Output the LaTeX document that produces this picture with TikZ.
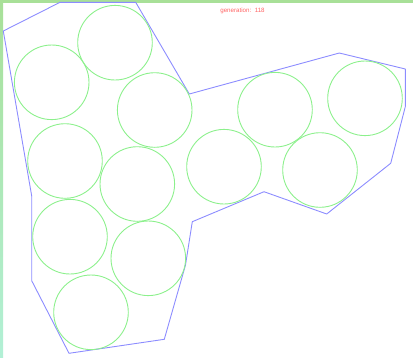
\documentclass[tikz,border=0pt]{standalone}
\usepackage{fontspec}
\setsansfont{Liberation Sans}
\usepackage{tikz}
\usetikzlibrary{positioning, calc}
\definecolor{HullBlue}{RGB}{140,140,255}
\definecolor{CellGreen}{RGB}{140,240,140}
\definecolor{FrameGreen}{RGB}{168,224,152}
\definecolor{FrameMint}{RGB}{178,240,214}
\definecolor{LabelRed}{RGB}{255,100,100}

\begin{document}
\begin{tikzpicture}[x=1pt, y=-1pt, line join=round,
    hull/.style={HullBlue, line width=0.9pt},
    cell/.style={CellGreen, line width=0.9pt}]
        \useasboundingbox (0,0) rectangle (413,357);
        % Frame strips
        \fill [FrameGreen] (0,0) rectangle (413,3);
        \shade [top color=FrameGreen, bottom color=FrameMint] (0,0) rectangle (3,357);
        % Hull
        \draw [hull] (3.3,31) -- (60,2.3) -- (135.7,2.3) -- (189.3,94)
            -- (339.3,53) -- (405.3,69) -- (405.3,106.7) -- (390.7,163.3)
            -- (326.7,214) -- (264,191.7) -- (192.3,221.7) -- (185.5,265)
            -- (164.3,339.3) -- (69,353.3) -- (31.7,280.7) -- (31.7,196) -- cycle;
        % Circles
        \foreach \cx/\cy in {115/42.7, 51.7/82.3, 154.7/110, 65/161, 137.3/184,
                             70/236.7, 148.3/258.3, 91/312.3, 224/166.7,
                             275/109.7, 320/170, 365/98.3}
            \draw [cell] (\cx,\cy) circle (37.3);
        % Label
        \node [LabelRed, font=\sffamily\fontsize{6.2}{7}\selectfont] (gen) at (242.5,11.3) {generation:\ \ 118};
    \end{tikzpicture}
\end{document}
